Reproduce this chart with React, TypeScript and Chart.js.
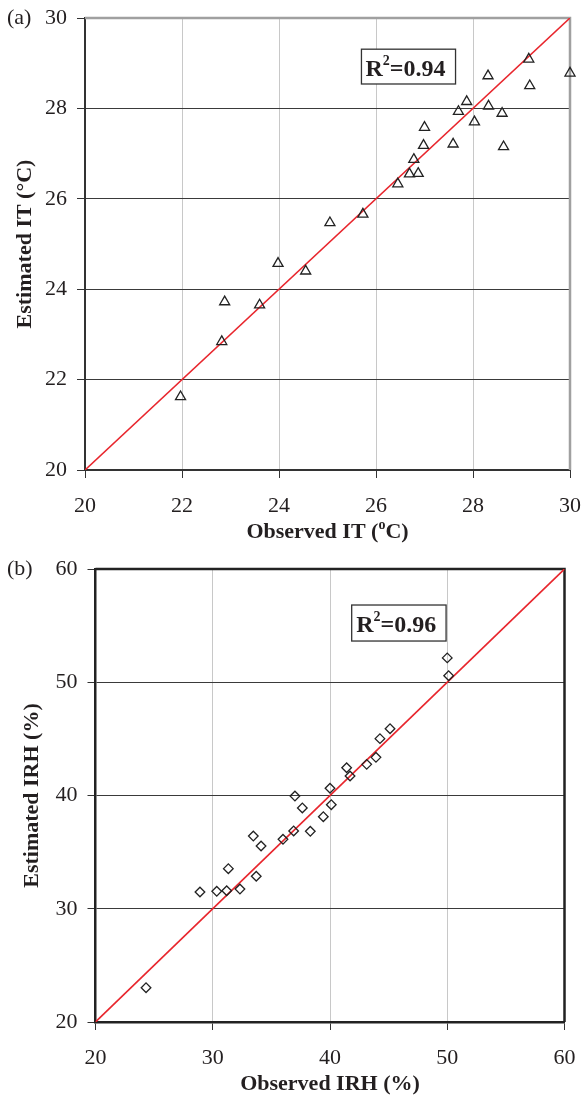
import React, { useEffect, useRef } from "react";
import { Chart, registerables } from "chart.js";

Chart.register(...registerables);

// ---------- Data ----------
// Panel (a): indoor temperature
const itObserved = [21.97, 22.82, 22.88, 23.6, 23.98, 24.55, 25.05, 25.73, 26.45, 26.69, 26.87, 26.78, 26.98, 27.0, 27.59, 27.7, 27.87, 28.03, 28.31, 28.32, 28.6, 28.63, 29.15, 29.17, 30.0];
const itEstimated = [21.62, 22.84, 23.72, 23.65, 24.57, 24.4, 25.47, 25.66, 26.33, 26.55, 26.56, 26.87, 27.18, 27.58, 27.21, 27.93, 28.15, 27.7, 28.72, 28.05, 27.89, 27.15, 29.09, 28.5, 28.78];
const itTicks = [20, 22, 24, 26, 28, 30];
const itR2 = "0.94";

// Panel (b): indoor relative humidity
const irhObserved = [24.31, 28.91, 30.34, 31.19, 31.33, 32.32, 33.71, 33.46, 34.12, 35.99, 36.9, 37.64, 38.32, 39.43, 40.11, 37.01, 40.0, 41.42, 41.71, 43.13, 43.92, 44.26, 45.12, 50.0, 50.12];
const irhEstimated = [23.03, 31.48, 31.54, 31.59, 33.54, 31.74, 32.87, 36.42, 35.54, 36.13, 36.87, 38.9, 36.84, 38.13, 39.19, 39.95, 40.64, 42.45, 41.72, 42.75, 43.37, 45.02, 45.9, 52.15, 50.58];
const irhTicks = [20, 30, 40, 50, 60];
const irhR2 = "0.96";

const FONT = "'Liberation Serif', 'Times New Roman', Times, serif";
const INK = "#231f20";

type Part = { t: string; size: number; rise?: number };

function drawParts(ctx: CanvasRenderingContext2D, parts: Part[], x: number, y: number, align: "center" | "left") {
  const widths = parts.map((p) => {
    ctx.font = `bold ${p.size}px ${FONT}`;
    return ctx.measureText(p.t).width;
  });
  const total = widths.reduce((a, b) => a + b, 0);
  let cx = align === "center" ? x - total / 2 : x;
  ctx.textAlign = "left";
  ctx.textBaseline = "alphabetic";
  parts.forEach((p, i) => {
    ctx.font = `bold ${p.size}px ${FONT}`;
    ctx.fillText(p.t, cx, y - (p.rise || 0));
    cx += widths[i];
  });
}

interface PanelCfg {
  xs: number[];
  ys: number[];
  ticks: number[];
  pointStyle: string;
  radius: number;
  yAxisWidth: number;
  xAxisHeight: number;
  padTop: number;
  padRight: number;
  xTitle: Part[];
  yTitle: string;
  yTitleX: number;
  label: string;
  box: [number, number, number, number];
  r2: string;
  textDx: number;
  textDy: number;
  trColor: string;
  lbColor: string;
  bw: number;
  trWidth: number;
}

function makeChart(canvas: HTMLCanvasElement, c: PanelCfg) {
  const min = c.ticks[0];
  const max = c.ticks[c.ticks.length - 1];
  const decor = {
    id: "decor",
    beforeDatasetsDraw(chart: any) {
      const ctx = chart.ctx as CanvasRenderingContext2D;
      const { left, right, top, bottom } = chart.chartArea;
      ctx.save();
      ctx.strokeStyle = c.trColor;
      ctx.lineWidth = c.trWidth;
      ctx.beginPath();
      ctx.moveTo(left, top);
      ctx.lineTo(right + c.trWidth / 2, top);
      ctx.moveTo(right, top);
      ctx.lineTo(right, bottom);
      ctx.stroke();
      ctx.restore();
    },
    afterDraw(chart: any) {
      const ctx = chart.ctx as CanvasRenderingContext2D;
      const { left, right, top, bottom } = chart.chartArea;
      const xs = chart.scales.x;
      const ys = chart.scales.y;
      ctx.save();
      ctx.fillStyle = INK;
      // panel label
      ctx.font = `22px ${FONT}`;
      ctx.textAlign = "left";
      ctx.textBaseline = "middle";
      ctx.fillText(c.label, 7, top);
      // x title
      drawParts(ctx, c.xTitle, (left + right) / 2, bottom + 68, "center");
      // y title
      ctx.save();
      ctx.translate(c.yTitleX, (top + bottom) / 2);
      ctx.rotate(-Math.PI / 2);
      drawParts(ctx, [{ t: c.yTitle, size: 22 }], 0, 7, "center");
      ctx.restore();
      // R2 box
      const bx1 = xs.getPixelForValue(c.box[0]);
      const bx2 = xs.getPixelForValue(c.box[2]);
      const by1 = ys.getPixelForValue(c.box[1]);
      const by2 = ys.getPixelForValue(c.box[3]);
      ctx.fillStyle = "#ffffff";
      ctx.fillRect(bx1, by1, bx2 - bx1, by2 - by1);
      ctx.strokeStyle = "#333";
      ctx.lineWidth = 1.3;
      ctx.strokeRect(bx1, by1, bx2 - bx1, by2 - by1);
      ctx.fillStyle = INK;
      drawParts(
        ctx,
        [
          { t: "R", size: 24 },
          { t: "2", size: 14, rise: 11 },
          { t: "=" + c.r2, size: 24 },
        ],
        bx1 + c.textDx,
        by1 + c.textDy,
        "left"
      );
      ctx.restore();
    },
  };

  const tickFont = { family: FONT, size: 22 };
  return new Chart(canvas, {
    type: "scatter",
    data: {
      datasets: [
        {
          data: c.xs.map((x, i) => ({ x, y: c.ys[i] })),
          pointStyle: c.pointStyle as any,
          pointRadius: c.radius,
          pointBorderColor: "#222",
          pointBackgroundColor: "rgba(255,255,255,0)",
          pointBorderWidth: 1.3,
          clip: false as any,
        },
        {
          type: "line" as any,
          data: [
            { x: min, y: min },
            { x: max, y: max },
          ],
          borderColor: "#e8262d",
          borderWidth: 1.6,
          pointRadius: 0,
          showLine: true,
          fill: false,
        } as any,
      ],
    },
    options: {
      animation: false,
      responsive: false,
      maintainAspectRatio: false,
      events: [],
      layout: { padding: { top: c.padTop, right: c.padRight, left: 0, bottom: 0 } },
      plugins: { legend: { display: false }, tooltip: { enabled: false } },
      scales: {
        x: {
          type: "linear",
          min,
          max,
          afterBuildTicks: (s: any) => {
            s.ticks = c.ticks.map((v) => ({ value: v }));
          },
          afterFit: (s: any) => {
            s.height = c.xAxisHeight;
            s.paddingLeft = 0;
            s.paddingRight = 0;
            s.paddingTop = 0;
            s.paddingBottom = 0;
          },
          grid: { color: "#c8c8c8", lineWidth: 1, tickColor: "#333", tickLength: 8, drawTicks: true },
          border: { display: true, color: c.lbColor, width: c.bw },
          ticks: { font: tickFont, color: INK, padding: 15, maxRotation: 0, autoSkip: false },
        },
        y: {
          type: "linear",
          min,
          max,
          afterBuildTicks: (s: any) => {
            s.ticks = c.ticks.map((v) => ({ value: v }));
          },
          afterFit: (s: any) => {
            s.width = c.yAxisWidth;
            s.paddingLeft = 0;
            s.paddingRight = 0;
            s.paddingTop = 0;
            s.paddingBottom = 0;
          },
          grid: { color: "#3a3a3a", lineWidth: 1, tickColor: "#333", tickLength: 8, drawTicks: true },
          border: { display: true, color: c.lbColor, width: c.bw },
          ticks: { font: tickFont, color: INK, padding: 10, autoSkip: false },
        },
      },
    } as any,
    plugins: [decor],
  });
}

export default function App() {
  const refA = useRef<HTMLCanvasElement>(null);
  const refB = useRef<HTMLCanvasElement>(null);

  useEffect(() => {
    const a = makeChart(refA.current!, {
      xs: itObserved,
      ys: itEstimated,
      ticks: itTicks,
      pointStyle: "triangle",
      radius: 5.8,
      yAxisWidth: 85,
      xAxisHeight: 78,
      padTop: 18,
      padRight: 15,
      xTitle: [
        { t: "Observed IT (", size: 22 },
        { t: "o", size: 14, rise: 9 },
        { t: "C)", size: 22 },
      ],
      yTitle: "Estimated IT (°C)",
      yTitleX: 24,
      label: "(a)",
      box: [25.7, 29.31, 27.64, 28.54],
      r2: itR2,
      textDx: 4,
      textDy: 27,
      trColor: "#a0a0a0",
      lbColor: "#333",
      bw: 2,
      trWidth: 2.5,
    });
    const b = makeChart(refB.current!, {
      xs: irhObserved,
      ys: irhEstimated,
      ticks: irhTicks,
      pointStyle: "rectRot",
      radius: 4.8,
      yAxisWidth: 95.5,
      xAxisHeight: 75,
      padTop: 21,
      padRight: 20.5,
      xTitle: [{ t: "Observed IRH (%)", size: 22 }],
      yTitle: "Estimated IRH (%)",
      yTitleX: 31,
      label: "(b)",
      box: [41.85, 56.82, 49.9, 53.64],
      r2: irhR2,
      textDx: 4.5,
      textDy: 26.7,
      trColor: "#222",
      lbColor: "#222",
      bw: 2.5,
      trWidth: 2.5,
    });
    return () => {
      a.destroy();
      b.destroy();
    };
  }, []);

  return (
    <div style={{ position: "absolute", left: 0, top: 0, width: 585, height: 1097, background: "#fff" }}>
      <canvas ref={refA} width={585} height={548} style={{ display: "block", width: 585, height: 548 }} />
      <canvas ref={refB} width={585} height={549} style={{ display: "block", width: 585, height: 549 }} />
    </div>
  );
}
